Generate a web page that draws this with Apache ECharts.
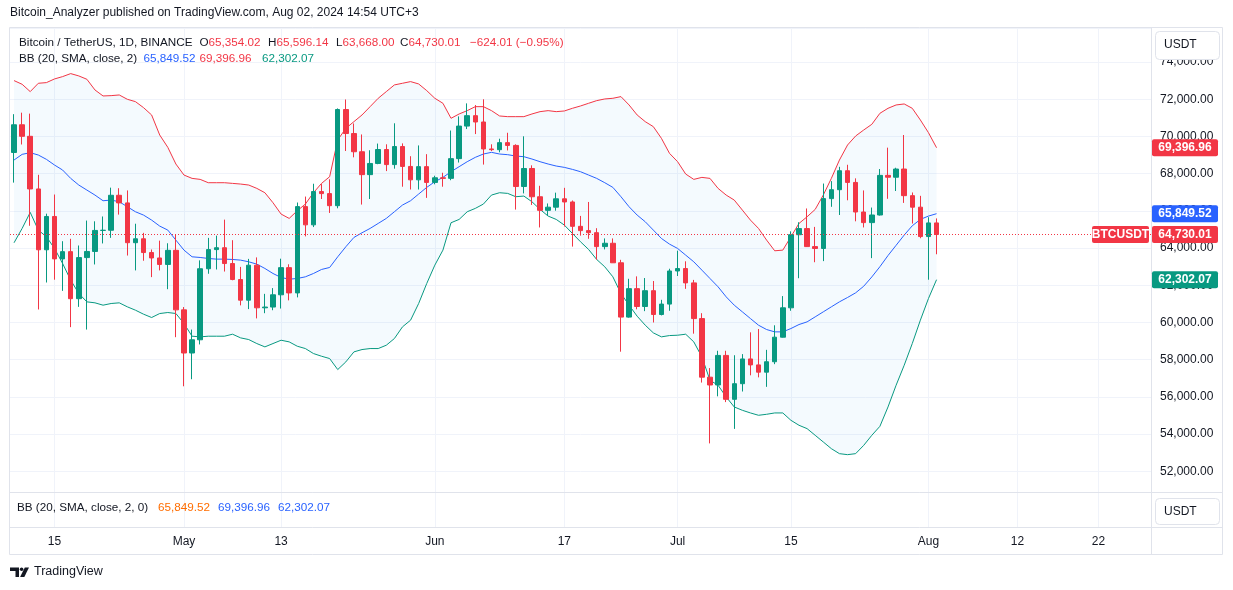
<!DOCTYPE html>
<html><head><meta charset="utf-8">
<script src="https://cdn.jsdelivr.net/npm/echarts@6/dist/echarts.min.js"></script>
<style>html,body{margin:0;padding:0;background:#fff}#c{width:1233px;height:590px}</style>
</head><body><div id="c"></div><script>
// ---- data ----
const startDate = '2024-04-10';
const dayCount = 141; // visible time range (incl. empty future area)
const tickDates = ['2024-04-15','2024-05-01','2024-05-13','2024-06-01','2024-06-17','2024-07-01','2024-07-15','2024-08-01','2024-08-12','2024-08-22'];
const tickTexts = ['15','May','13','Jun','17','Jul','15','Aug','12','22'];

const opens = [69140,70630,70010,67180,63910,65700,63420,63810,61280,63490,
63820,64950,64960,66840,66430,64290,64500,63760,63470,63120,
63880,60680,58360,59070,62890,63920,64020,63170,62310,61200,
63080,60790,60830,61490,62950,61590,66230,65250,67040,66930,
66280,71450,70160,69180,67950,68550,69300,68490,69460,68390,
67670,68380,67530,67780,67750,68810,70560,71120,70780,69330,
69290,69670,69520,67310,68280,66760,66030,66200,66650,66480,
65170,64940,64830,64080,64260,63210,60290,61820,60860,61710,
60430,60990,62770,62900,62130,60210,57060,56640,58230,55870,
56710,58040,57720,57330,57890,59210,60790,64720,65050,64080,
63980,66660,67140,68160,67530,65940,65370,65780,67910,67810,
68250,66820,66200,64620,65354.02];
const highs = [71200,71280,71230,67940,65850,66880,64370,64500,64140,65480,
65440,65700,67250,67220,67100,65310,64820,63925,64400,64260,
64740,60830,59620,63340,64550,64670,65530,64425,62990,63420,
63500,61540,61850,63430,63130,66450,66770,67460,67440,67700,
71510,71990,70700,70110,69260,69620,69580,70710,69630,68940,
69520,69050,67890,68050,70320,71080,71780,71690,72000,69580,
69880,70200,69580,70010,68450,67350,66400,66980,67240,66560,
65730,66480,65070,64520,64520,63370,62350,62480,62390,62230,
61220,62890,63860,63290,62290,60500,57550,58480,58480,58240,
58300,59470,59650,58530,59850,61420,64900,65390,66130,65140,
67470,67600,68370,68480,67750,67100,66180,68250,69400,68320,
70080,66990,66810,65660,65596.14];
const lows = [67520,69570,65200,60700,62150,62300,61700,59750,60840,59620,
63120,64250,64550,65800,63600,62800,63320,62440,62800,61790,
59210,56570,56950,58820,62620,62850,62740,62270,60920,60720,
60220,60500,60660,60750,61190,61350,64630,65130,66640,65890,
66140,69220,68880,66340,66640,68510,68140,68270,67300,67150,
67150,66700,67430,67300,67650,68600,70400,70130,68490,69220,
69150,69250,66070,66940,66320,65110,65740,66010,65160,64080,
64670,64500,63380,63930,63200,58430,60260,60710,60610,60000,
60380,60630,62500,61810,59400,56770,53500,56030,55720,54280,
56290,57160,57050,56540,57760,59190,60630,62380,64780,63240,
63300,66220,65780,66570,65440,65110,63460,65750,66650,67070,
66430,65320,64530,62300,63668.00];
const closes = [70630,70010,67180,63910,65700,63420,63810,61280,63490,63820,
64950,64960,66840,66430,64290,64500,63760,63470,63120,63880,
60680,58360,59070,62890,63920,64020,63170,62310,61200,63080,
60790,60830,61490,62950,61590,66230,65250,67040,66930,66280,
71450,70160,69180,67950,68550,69300,68490,69460,68390,67670,
68380,67530,67780,67750,68810,70560,71120,70780,69330,69290,
69670,69520,67310,68280,66760,66030,66200,66650,66480,65170,
64940,64830,64080,64260,63210,60290,61820,60860,61710,60430,
60990,62770,62900,62130,60210,57060,56640,58230,55870,56710,
58040,57720,57330,57890,59210,60790,64720,65050,64080,63980,
66660,67140,68160,67530,65940,65370,65780,67910,67810,68250,
66820,66200,64620,65354.02,64730.01];
const bbUpper = [73005,72807,72413,72861,72897,73094,73220,73381,73256,73076,
72502,72179,72197,72233,72000,71874,71552,71157,70080,69417,
68520,67928,67748,67694,67515,67515,67515,67479,67443,67390,
67210,66977,66439,65829,65596,66008,66367,66977,67479,67838,
69812,70439,70798,71157,71605,72054,72413,72772,72861,72951,
72825,72466,72054,71785,70978,71211,71390,71605,71605,71390,
71103,71067,71067,71067,71211,71336,71390,71336,71372,71516,
71641,71785,71928,72018,72054,72144,71695,71157,70798,70529,
69901,69094,68645,67981,67694,67802,67748,67210,66851,66582,
66044,65506,65057,64429,63855,63891,64609,65326,65685,66080,
66851,67748,68735,69542,70027,70350,70655,71247,71516,71695,
71749,71516,70888,70206,69396.96];
const bbMiddle = [68735,69040,69130,69004,68771,68466,68197,67748,67390,67120,
66851,66546,66582,66492,66223,65954,65775,65506,65183,64968,
64429,63891,63532,63496,63443,63407,63407,63389,63353,63263,
63138,62905,62635,62420,62330,62366,62456,62635,62851,62958,
63532,64071,64573,64824,65057,65326,65596,65954,66313,66546,
66905,67264,67569,67802,68107,68376,68645,68879,69058,69148,
69058,69022,68950,68914,68789,68645,68520,68412,68340,68232,
68107,67928,67748,67515,67264,66762,66223,65775,65416,64968,
64519,64214,63981,63622,63263,62815,62366,61918,61380,60931,
60572,60213,59854,59621,59496,59496,59675,59890,60034,60303,
60572,60842,61111,61344,61595,61950,62450,63000,63600,64150,
64700,65200,65542,65721,65849.52];
const bbLower = [64286,65057,65918,64968,64609,63981,63174,62277,61559,61110,
61057,60931,61021,61057,60842,60662,60447,60267,60482,60536,
60483,59944,59263,59227,59263,59263,59263,59370,59173,59083,
58868,58689,58868,59047,58958,58724,58599,58330,58186,58061,
57469,57881,58420,58545,58599,58599,58778,59137,59765,60124,
61021,62097,63084,63891,65362,65541,65954,66134,66367,66851,
66977,66941,66762,66797,66492,66080,65721,65541,65237,64788,
64340,63927,63389,62994,62456,61559,60931,60339,59855,59442,
59227,59298,59316,59370,58958,58150,56895,56626,55998,55459,
55280,55137,55011,55065,55137,55137,54742,54474,54294,53935,
53576,53217,52948,52894,52948,53396,53935,54419,55459,56626,
57702,58868,60124,61290,62302.07];

// ---- build ----
const dates = [];
{
  const d0 = new Date(startDate + 'T00:00:00Z');
  for (let i = 0; i < dayCount; i++) {
    const d = new Date(d0.getTime() + i * 86400000);
    dates.push(d.toISOString().slice(0, 10));
  }
}
const candleData = opens.map((o, i) => [o, closes[i], lows[i], highs[i]]);
const fmt = v => v.toLocaleString('en-US', {minimumFractionDigits: 2, maximumFractionDigits: 2});
const isTick = (idx, val) => tickDates.indexOf(val) >= 0;
const FONT = '"Liberation Sans", Arial, sans-serif';
const TXT = '#131722', RED = '#F23645', GREEN = '#089981', BLUE = '#2962FF', GRID = '#f0f3fa', BORDER = '#e0e3eb';
const last = closes.length - 1;

const chart = echarts.init(document.getElementById('c'), null, {renderer: 'canvas'});
chart.setOption({
  animation: false,
  backgroundColor: '#ffffff',
  textStyle: {fontFamily: FONT},
  grid: [
    {left: 10, right: 82, top: 28, bottom: 98},
    {left: 10, right: 82, top: 493, bottom: 63}
  ],
  xAxis: [
    {type: 'category', gridIndex: 0, data: dates, boundaryGap: true,
     axisLine: {show: false}, axisTick: {show: false}, axisLabel: {show: false},
     splitLine: {show: true, interval: isTick, alignWithLabel: true, lineStyle: {color: GRID, width: 1}}},
    {type: 'category', gridIndex: 1, data: dates, boundaryGap: true,
     axisLine: {show: false}, axisTick: {show: false, alignWithLabel: true},
     axisLabel: {show: true, interval: isTick, margin: 9, color: TXT, fontSize: 12, fontFamily: FONT,
       formatter: v => { const k = tickDates.indexOf(v); return k >= 0 ? tickTexts[k] : ''; }},
     splitLine: {show: true, interval: isTick, alignWithLabel: true, lineStyle: {color: GRID, width: 1}}}
  ],
  yAxis: [
    {type: 'value', gridIndex: 0, position: 'right', min: 50887, max: 75833,
     splitNumber: 12, minInterval: 2000, maxInterval: 2000, scale: true,
     axisLine: {show: false}, axisTick: {show: false},
     axisLabel: {show: true, margin: 9, color: TXT, fontSize: 12, fontFamily: FONT, align: 'left',
       showMinLabel: false, showMaxLabel: false,
       formatter: v => (Math.abs(v % 2000) < 1e-6 ? fmt(v) : '')},
     splitLine: {show: true, lineStyle: {color: GRID, width: 1}}},
    {type: 'value', gridIndex: 1, show: false, min: 0, max: 1, splitLine: {show: false}}
  ],
  series: [
    {type: 'custom', name: 'band', xAxisIndex: 0, yAxisIndex: 0, silent: true, z: 1,
     data: [[0, bbMiddle[0]]],
     renderItem: function (params, api) {
       if (params.dataIndex !== 0) return;
       const pts = [];
       for (let i = 0; i < bbUpper.length; i++) pts.push(api.coord([i, bbUpper[i]]));
       for (let i = bbLower.length - 1; i >= 0; i--) pts.push(api.coord([i, bbLower[i]]));
       return {type: 'polygon', shape: {points: pts}, style: {fill: 'rgba(33,150,243,0.05)'}};
     }},
    {type: 'line', name: 'upper', data: bbUpper, showSymbol: false, symbol: 'none', z: 2,
     lineStyle: {color: RED, width: 1}},
    {type: 'line', name: 'basis', data: bbMiddle, showSymbol: false, symbol: 'none', z: 2,
     lineStyle: {color: BLUE, width: 1}},
    {type: 'line', name: 'lower', data: bbLower, showSymbol: false, symbol: 'none', z: 2,
     lineStyle: {color: GREEN, width: 1}},
    {type: 'candlestick', name: 'BTCUSDT', data: candleData, z: 3, barWidth: 5,
     itemStyle: {color: GREEN, color0: RED, borderColor: GREEN, borderColor0: RED, borderWidth: 1},
     markLine: {silent: true, symbol: ['none', 'none'], label: {show: false},
       lineStyle: {color: RED, type: [1, 2], width: 1},
       data: [{yAxis: closes[last]}]}},
    {type: 'line', xAxisIndex: 1, yAxisIndex: 1, data: [], showSymbol: false}
  ]
});

// ---- overlays (frame, legends, price tags) ----
const yPix = v => chart.convertToPixel({yAxisIndex: 0}, v);
const chg = closes[last] - closes[last - 1];
const pct = chg / closes[last - 1] * 100;
const sgn = v => (v < 0 ? '\u2212' : '+') + fmt(Math.abs(v));
const LF = 11.7; // legend font size

function txt(x, y, text, color, size, weight, extra) {
  return Object.assign({type: 'text', x: x, y: y, z: 50,
    style: {text: text, fill: color, font: (weight || 'normal') + ' ' + (size || 12) + 'px ' + FONT, textVerticalAlign: 'middle'}}, extra || {});
}
function tag(yv, label, color) {
  const y = yPix(yv);
  return [
    {type: 'rect', z: 60, shape: {x: 1152, y: y - 8.5, width: 66, height: 17, r: 2}, style: {fill: color}},
    {type: 'text', z: 61, x: 1185, y: y, style: {text: label, fill: '#fff', font: 'bold 12px ' + FONT, textAlign: 'center', textVerticalAlign: 'middle'}}
  ];
}
const g = [];
// frame
g.push({type: 'rect', z: 40, shape: {x: 9.5, y: 27.5, width: 1213, height: 527}, style: {fill: 'none', stroke: BORDER, lineWidth: 1}});
g.push({type: 'line', z: 40, shape: {x1: 9.5, y1: 492.5, x2: 1222.5, y2: 492.5}, style: {stroke: BORDER, lineWidth: 1}});
g.push({type: 'line', z: 40, shape: {x1: 9.5, y1: 527.5, x2: 1222.5, y2: 527.5}, style: {stroke: BORDER, lineWidth: 1}});
g.push({type: 'line', z: 40, shape: {x1: 1151.5, y1: 27.5, x2: 1151.5, y2: 554.5}, style: {stroke: BORDER, lineWidth: 1}});
// USDT boxes
g.push({type: 'rect', z: 45, shape: {x: 1155.5, y: 31.5, width: 64, height: 28, r: 4}, style: {fill: '#fff', stroke: BORDER, lineWidth: 1}});
g.push(txt(1164, 45, 'USDT', TXT, 12));
g.push({type: 'rect', z: 45, shape: {x: 1155.5, y: 498.5, width: 64, height: 26, r: 4}, style: {fill: '#fff', stroke: BORDER, lineWidth: 1}});
g.push(txt(1164, 512, 'USDT', TXT, 12));
// header
g.push(txt(10, 13, 'Bitcoin_Analyzer published on TradingView.com, Aug 02, 2024 14:54 UTC+3', TXT, 12));
// legend line 1
g.push(txt(19, 43, 'Bitcoin / TetherUS, 1D, BINANCE', TXT, LF));
const ohlcLab = [['O', opens[last], 199.5], ['H', highs[last], 268], ['L', lows[last], 336], ['C', closes[last], 400]];
ohlcLab.forEach(a => {
  g.push({type: 'text', x: a[2], y: 43, z: 50, style: {text: '{k|' + a[0] + '}{v|' + fmt(a[1]) + '}', textVerticalAlign: 'middle',
    font: LF + 'px ' + FONT, rich: {k: {fill: TXT, font: LF + 'px ' + FONT}, v: {fill: RED, font: LF + 'px ' + FONT}}}});
});
g.push(txt(470, 43, sgn(chg) + ' (' + (pct < 0 ? '\u2212' : '+') + Math.abs(pct).toFixed(2) + '%)', RED, LF));
// legend line 2
g.push(txt(19, 58.5, 'BB (20, SMA, close, 2)', TXT, LF));
g.push(txt(143.5, 58.5, fmt(bbMiddle[last]), BLUE, LF));
g.push(txt(199.5, 58.5, fmt(bbUpper[last]), RED, LF));
g.push(txt(262, 58.5, fmt(bbLower[last]), GREEN, LF));
// lower pane legend
g.push(txt(17, 508, 'BB (20, SMA, close, 2, 0)', TXT, LF));
g.push(txt(158, 508, fmt(bbMiddle[last]), '#FF6D00', LF));
g.push(txt(218, 508, fmt(bbUpper[last]), BLUE, LF));
g.push(txt(278, 508, fmt(bbLower[last]), BLUE, LF));
// price tags
g.push.apply(g, tag(bbUpper[last], fmt(bbUpper[last]), RED));
g.push.apply(g, tag(bbMiddle[last], fmt(bbMiddle[last]), BLUE));
g.push.apply(g, tag(bbLower[last], fmt(bbLower[last]), GREEN));
g.push.apply(g, tag(closes[last], fmt(closes[last]), RED));
{
  const y = yPix(closes[last]);
  g.push({type: 'rect', z: 60, shape: {x: 1092, y: y - 8.5, width: 57, height: 17, r: 2}, style: {fill: RED}});
  g.push({type: 'text', z: 61, x: 1120.5, y: y, style: {text: 'BTCUSDT', fill: '#fff', font: 'bold 12px ' + FONT, textAlign: 'center', textVerticalAlign: 'middle'}});
}
// TradingView logo
g.push({type: 'polygon', z: 50, shape: {points: [[10, 567.5], [19, 567.5], [19, 577], [15.5, 577], [15.5, 571], [10, 571]]}, style: {fill: TXT}});
g.push({type: 'circle', z: 50, shape: {cx: 21.6, cy: 569.3, r: 1.8}, style: {fill: TXT}});
g.push({type: 'polygon', z: 50, shape: {points: [[24.8, 567.5], [29, 567.5], [24.3, 577], [20.1, 577]]}, style: {fill: TXT}});
g.push(txt(34, 572, 'TradingView', TXT, 12.5, 'normal'));

chart.setOption({graphic: g});
</script></body></html>
